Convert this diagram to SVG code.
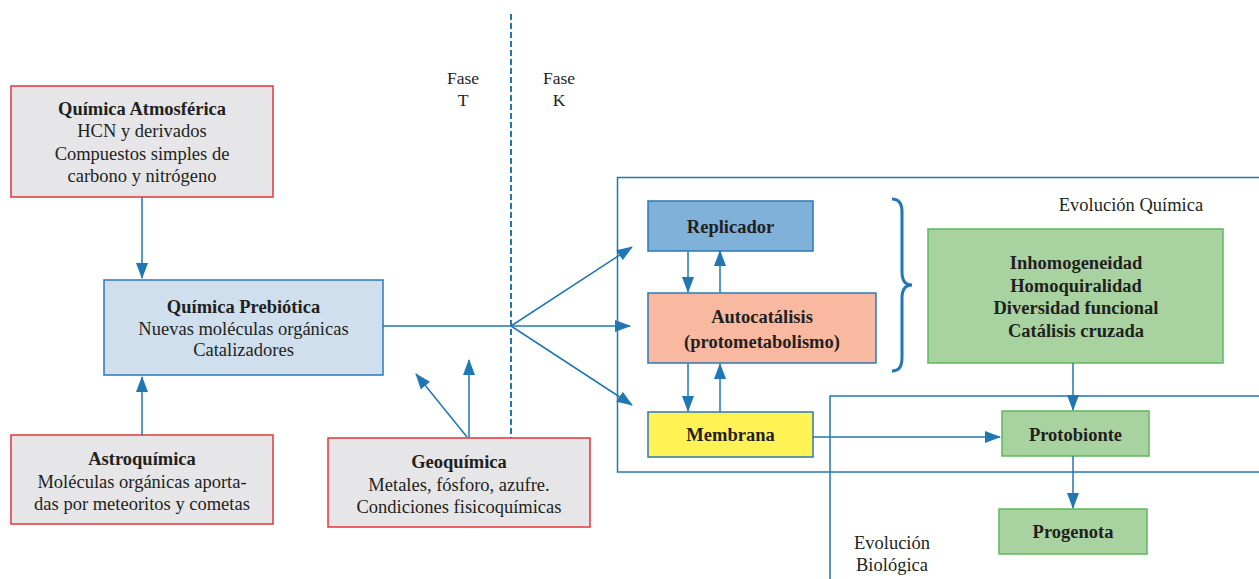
<svg xmlns="http://www.w3.org/2000/svg" width="1259" height="579" viewBox="0 0 1259 579">
<style>
text{font-family:"Liberation Serif","Times New Roman",serif;font-size:18.5px;fill:#231f20;text-anchor:middle}
.b{font-weight:bold}
.gray{fill:#e6e6e8;stroke:#e8333a;stroke-width:1.5}
.blue{stroke:#2a7ab8;stroke-width:1.5}
.green{fill:#a8d3a0;stroke:#5cb85c;stroke-width:1.5}
.c{stroke:#1f78b4;stroke-width:1.5;fill:none}
.frame{stroke:#1f78b4;stroke-width:1.5;fill:none}
</style>
<defs>
<marker id="ah" markerUnits="userSpaceOnUse" markerWidth="16" markerHeight="12" refX="15" refY="6" orient="auto">
<path d="M0,0 L16,6 L0,12 Z" fill="#1f78b4"/>
</marker>
</defs>
<rect width="1259" height="579" fill="#fff"/>

<g id="frames">
<rect class="frame" x="617.5" y="177.5" width="660" height="294.5"/>
<rect class="frame" x="830" y="396" width="450" height="200"/>
</g>

<g id="atmos">
<rect class="gray" x="11" y="86" width="262" height="111"/>
<text class="b" x="142" y="115">Química Atmosférica</text>
<text x="142" y="137">HCN y derivados</text>
<text x="142" y="159.5">Compuestos simples de</text>
<text x="142" y="182">carbono y nitrógeno</text>
</g>

<g id="prebiotica">
<rect class="blue" fill="#cfdfee" x="104" y="280" width="279" height="95"/>
<text class="b" x="243.5" y="313">Química Prebiótica</text>
<text x="243.5" y="334.5">Nuevas moléculas orgánicas</text>
<text x="243.5" y="356">Catalizadores</text>
</g>

<g id="astro">
<rect class="gray" x="11" y="435" width="262" height="89"/>
<text class="b" x="142" y="465">Astroquímica</text>
<text x="142" y="488">Moléculas orgánicas aporta-</text>
<text x="142" y="509.5">das por meteoritos y cometas</text>
</g>

<g id="geo">
<rect class="gray" x="328" y="438" width="262" height="89"/>
<text class="b" x="459" y="468">Geoquímica</text>
<text x="459" y="490.5">Metales, fósforo, azufre.</text>
<text x="459" y="513">Condiciones fisicoquímicas</text>
</g>

<g id="fases">
<line x1="511" y1="14" x2="511" y2="438" stroke="#1f78b4" stroke-width="2" stroke-dasharray="6,3"/>
<text x="463" y="84" style="font-size:17.5px">Fase</text>
<text x="463" y="106" style="font-size:17.5px">T</text>
<text x="559" y="84" style="font-size:17.5px">Fase</text>
<text x="559" y="106" style="font-size:17.5px">K</text>
</g>

<g id="replicador">
<rect class="blue" fill="#7fb1d9" x="648" y="201" width="165" height="50"/>
<text class="b" x="730.5" y="233">Replicador</text>
</g>

<g id="autocatalisis">
<rect class="blue" fill="#f8b9a0" x="648" y="293" width="228" height="70"/>
<text class="b" x="762" y="323">Autocatálisis</text>
<text class="b" x="762" y="348">(protometabolismo)</text>
</g>

<g id="membrana">
<rect class="blue" fill="#fef254" x="648" y="412" width="165" height="45"/>
<text class="b" x="730.5" y="441">Membrana</text>
</g>

<g id="brace">
<path d="M892,199 Q902,199 902,212 L902,272 Q902,285 912,285 Q902,285 902,298 L902,358 Q902,371 892,371" fill="none" stroke="#1f78b4" stroke-width="3"/>
</g>

<g id="evq-label">
<text x="1131" y="211">Evolución Química</text>
</g>

<g id="propiedades">
<rect class="green" x="928" y="229" width="295" height="134"/>
<text class="b" x="1076" y="269">Inhomogeneidad</text>
<text class="b" x="1076" y="291.5">Homoquiralidad</text>
<text class="b" x="1076" y="314">Diversidad funcional</text>
<text class="b" x="1076" y="336.5">Catálisis cruzada</text>
</g>

<g id="protobionte">
<rect class="green" x="1002" y="411" width="147" height="45"/>
<text class="b" x="1075.5" y="441">Protobionte</text>
</g>

<g id="progenota">
<rect class="green" x="999" y="509" width="148" height="45"/>
<text class="b" x="1073" y="538">Progenota</text>
</g>

<g id="evb-label">
<text x="892" y="549">Evolución</text>
<text x="892" y="571">Biológica</text>
</g>

<g id="connectors">
<line class="c" x1="142" y1="197" x2="142" y2="278" marker-end="url(#ah)"/>
<line class="c" x1="142" y1="435" x2="142" y2="377" marker-end="url(#ah)"/>
<line class="c" x1="383" y1="326" x2="511" y2="326"/>
<line class="c" x1="511" y1="326" x2="632" y2="247" marker-end="url(#ah)"/>
<line class="c" x1="511" y1="326" x2="630" y2="326" marker-end="url(#ah)"/>
<line class="c" x1="511" y1="326" x2="632" y2="405" marker-end="url(#ah)"/>
<line class="c" x1="469" y1="438" x2="469" y2="360" marker-end="url(#ah)"/>
<line class="c" x1="467" y1="437" x2="416" y2="374" marker-end="url(#ah)"/>
<line class="c" x1="688" y1="251" x2="688" y2="292" marker-end="url(#ah)"/>
<line class="c" x1="720" y1="293" x2="720" y2="251" marker-end="url(#ah)"/>
<line class="c" x1="688" y1="363" x2="688" y2="411" marker-end="url(#ah)"/>
<line class="c" x1="720" y1="412" x2="720" y2="364" marker-end="url(#ah)"/>
<line class="c" x1="813" y1="437" x2="1000" y2="437" marker-end="url(#ah)"/>
<line class="c" x1="1073" y1="363" x2="1073" y2="410" marker-end="url(#ah)"/>
<line class="c" x1="1073" y1="456" x2="1073" y2="508" marker-end="url(#ah)"/>
</g>
</svg>
